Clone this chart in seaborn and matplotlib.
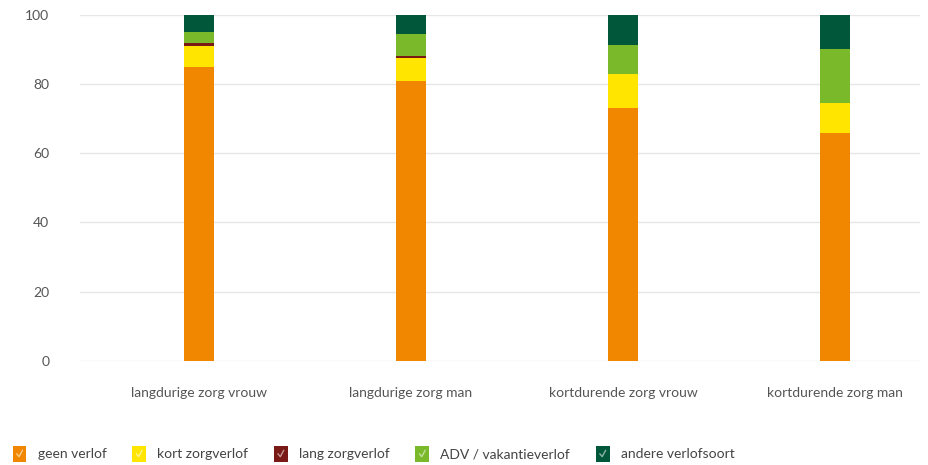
import matplotlib
matplotlib.use("Agg")
import matplotlib.pyplot as plt
from matplotlib.patches import Patch, Rectangle
from matplotlib.lines import Line2D
from matplotlib.legend_handler import HandlerBase
import seaborn as sns
import pandas as pd
import numpy as np

categories = ["langdurige zorg vrouw", "langdurige zorg man", "kortdurende zorg vrouw", "kortdurende zorg man"]
geen_verlof = [85, 81, 73, 66]
kort_zorgverlof = [6, 6.5, 10, 8.5]
lang_zorgverlof = [1, 0.7, 0, 0]
adv_vakantieverlof = [3, 6.3, 8.3, 15.7]
andere_verlofsoort = [5, 5.5, 8.7, 9.8]

series_names = ["geen verlof", "kort zorgverlof", "lang zorgverlof", "ADV / vakantieverlof", "andere verlofsoort"]
series_values = [geen_verlof, kort_zorgverlof, lang_zorgverlof, adv_vakantieverlof, andere_verlofsoort]
colors = ["#F18700", "#FFE500", "#7A1A16", "#7AB929", "#00573A"]

sns.set_theme(style="white")
plt.rcParams['font.family'] = ['Lato', 'DejaVu Sans']

fig = plt.figure(figsize=(9.29, 4.65), dpi=100)
ax = fig.add_axes([0.086, 0.224, 0.904, 0.744])

bottom = np.zeros(len(categories))
for name, vals, col in zip(series_names, series_values, colors):
    df = pd.DataFrame({"cat": categories, "val": vals})
    sns.barplot(data=df, x="cat", y="val", color=col, bottom=bottom, width=0.14,
                ax=ax, saturation=1, linewidth=0, zorder=3)
    bottom = bottom + np.array(vals)

ax.set_ylim(0, 100)
ax.set_xlim(-0.561, 3.40)
ax.set_yticks([0, 20, 40, 60, 80, 100])
ax.grid(axis="y", color="#e6e6e6", linewidth=1, zorder=0)
for s in ax.spines.values():
    s.set_visible(False)
ax.set_xlabel("")
ax.set_ylabel("")
ax.tick_params(axis="both", length=0, colors="#555555", labelsize=10)
ax.tick_params(axis="x", pad=19)
ax.tick_params(axis="y", pad=22)


class CheckHandler(HandlerBase):
    def create_artists(self, legend, orig_handle, xdescent, ydescent, width, height, fontsize, trans):
        rect = Rectangle((-xdescent, -ydescent), width, height,
                         facecolor=orig_handle.get_facecolor(), edgecolor="none", transform=trans)
        xs = np.array([0.3, 0.47, 0.72]) * width - xdescent
        ys = np.array([0.5, 0.32, 0.72]) * height - ydescent
        chk = Line2D(xs, ys, color=(1, 1, 1, 0.55), linewidth=1.0, transform=trans)
        return [rect, chk]


handles = [Patch(facecolor=c, edgecolor="none", label=n) for n, c in zip(series_names, colors)]
leg = fig.legend(handles=handles, loc="lower left", bbox_to_anchor=(0.0, -0.02), ncol=5, frameon=False,
                 fontsize=10, handlelength=1.0, handleheight=1.4, columnspacing=1.85, handletextpad=0.8,
                 handler_map={Patch: CheckHandler()})
for t in leg.get_texts():
    t.set_color("#444444")

fig.savefig("out.png", dpi=100)
